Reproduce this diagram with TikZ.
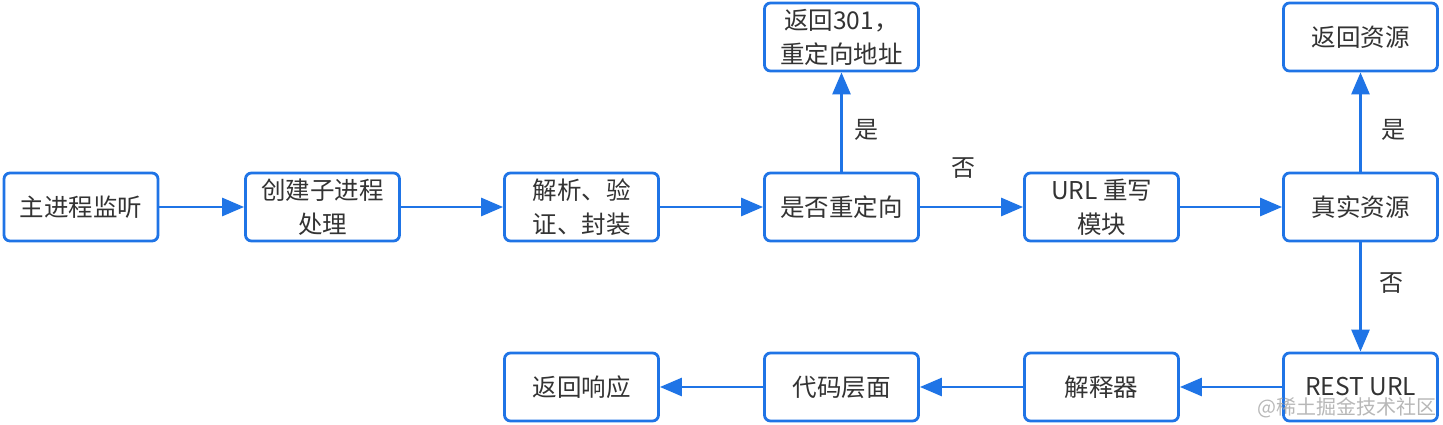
\documentclass[tikz,border=0pt]{standalone}
\usepackage{fontspec}
\setmainfont{Noto Sans CJK SC}
\usetikzlibrary{arrows.meta}
\definecolor{lineblue}{HTML}{1F74E6}
\definecolor{txt}{HTML}{333333}
\begin{document}
\begin{tikzpicture}[x=1pt,y=-1pt,
  box/.style={draw=lineblue, line width=2.8pt, rounded corners=6pt, fill=white,
    minimum width=154pt, minimum height=68pt, inner sep=0pt, align=center,
    text=txt, font=\fontsize{24.5}{34}\selectfont},
  conn/.style={draw=lineblue, line width=2.8pt, -{Triangle[length=22pt,width=18pt]}},
  lbl/.style={text=txt, font=\fontsize{24}{28}\selectfont}]
\useasboundingbox (0,0) rectangle (1443,425);
\node[box] (m1) at (81,207) {主进程监听};
\node[box] (m2) at (322.5,207) {创建子进程\\处理};
\node[box] (m3) at (581.5,207) {解析、验\\证、封装};
\node[box] (m4) at (841.5,207) {是否重定向};
\node[box] (m5) at (1101.5,207) {URL 重写\\模块};
\node[box] (m6) at (1360.5,207) {真实资源};
\node[box] (t1) at (841.5,37) {返回301，\\重定向地址};
\node[box] (t2) at (1360.5,37) {返回资源};
\node[box] (b1) at (1360.5,387) {REST URL};
\node[box] (b2) at (1101.5,387) {解释器};
\node[box] (b3) at (841.5,387) {代码层面};
\node[box] (b4) at (581.5,387) {返回响应};
\draw[conn] (m1) -- (m2);
\draw[conn] (m2) -- (m3);
\draw[conn] (m3) -- (m4);
\draw[conn] (m4) -- (m5);
\draw[conn] (m5) -- (m6);
\draw[conn] (m4) -- (t1);
\draw[conn] (m6) -- (t2);
\draw[conn] (m6) -- (b1);
\draw[conn] (b1) -- (b2);
\draw[conn] (b2) -- (b3);
\draw[conn] (b3) -- (b4);
\node[lbl] (l1) at (866,130) {是};
\node[lbl] (l2) at (963,168) {否};
\node[lbl] (l3) at (1393,130) {是};
\node[lbl] (l4) at (1391,283) {否};
\node[text=gray!70, opacity=0.8, font=\fontsize{20}{22}\selectfont, anchor=east] (wm) at (1440,408) {@稀土掘金技术社区};
\end{tikzpicture}
\end{document}
